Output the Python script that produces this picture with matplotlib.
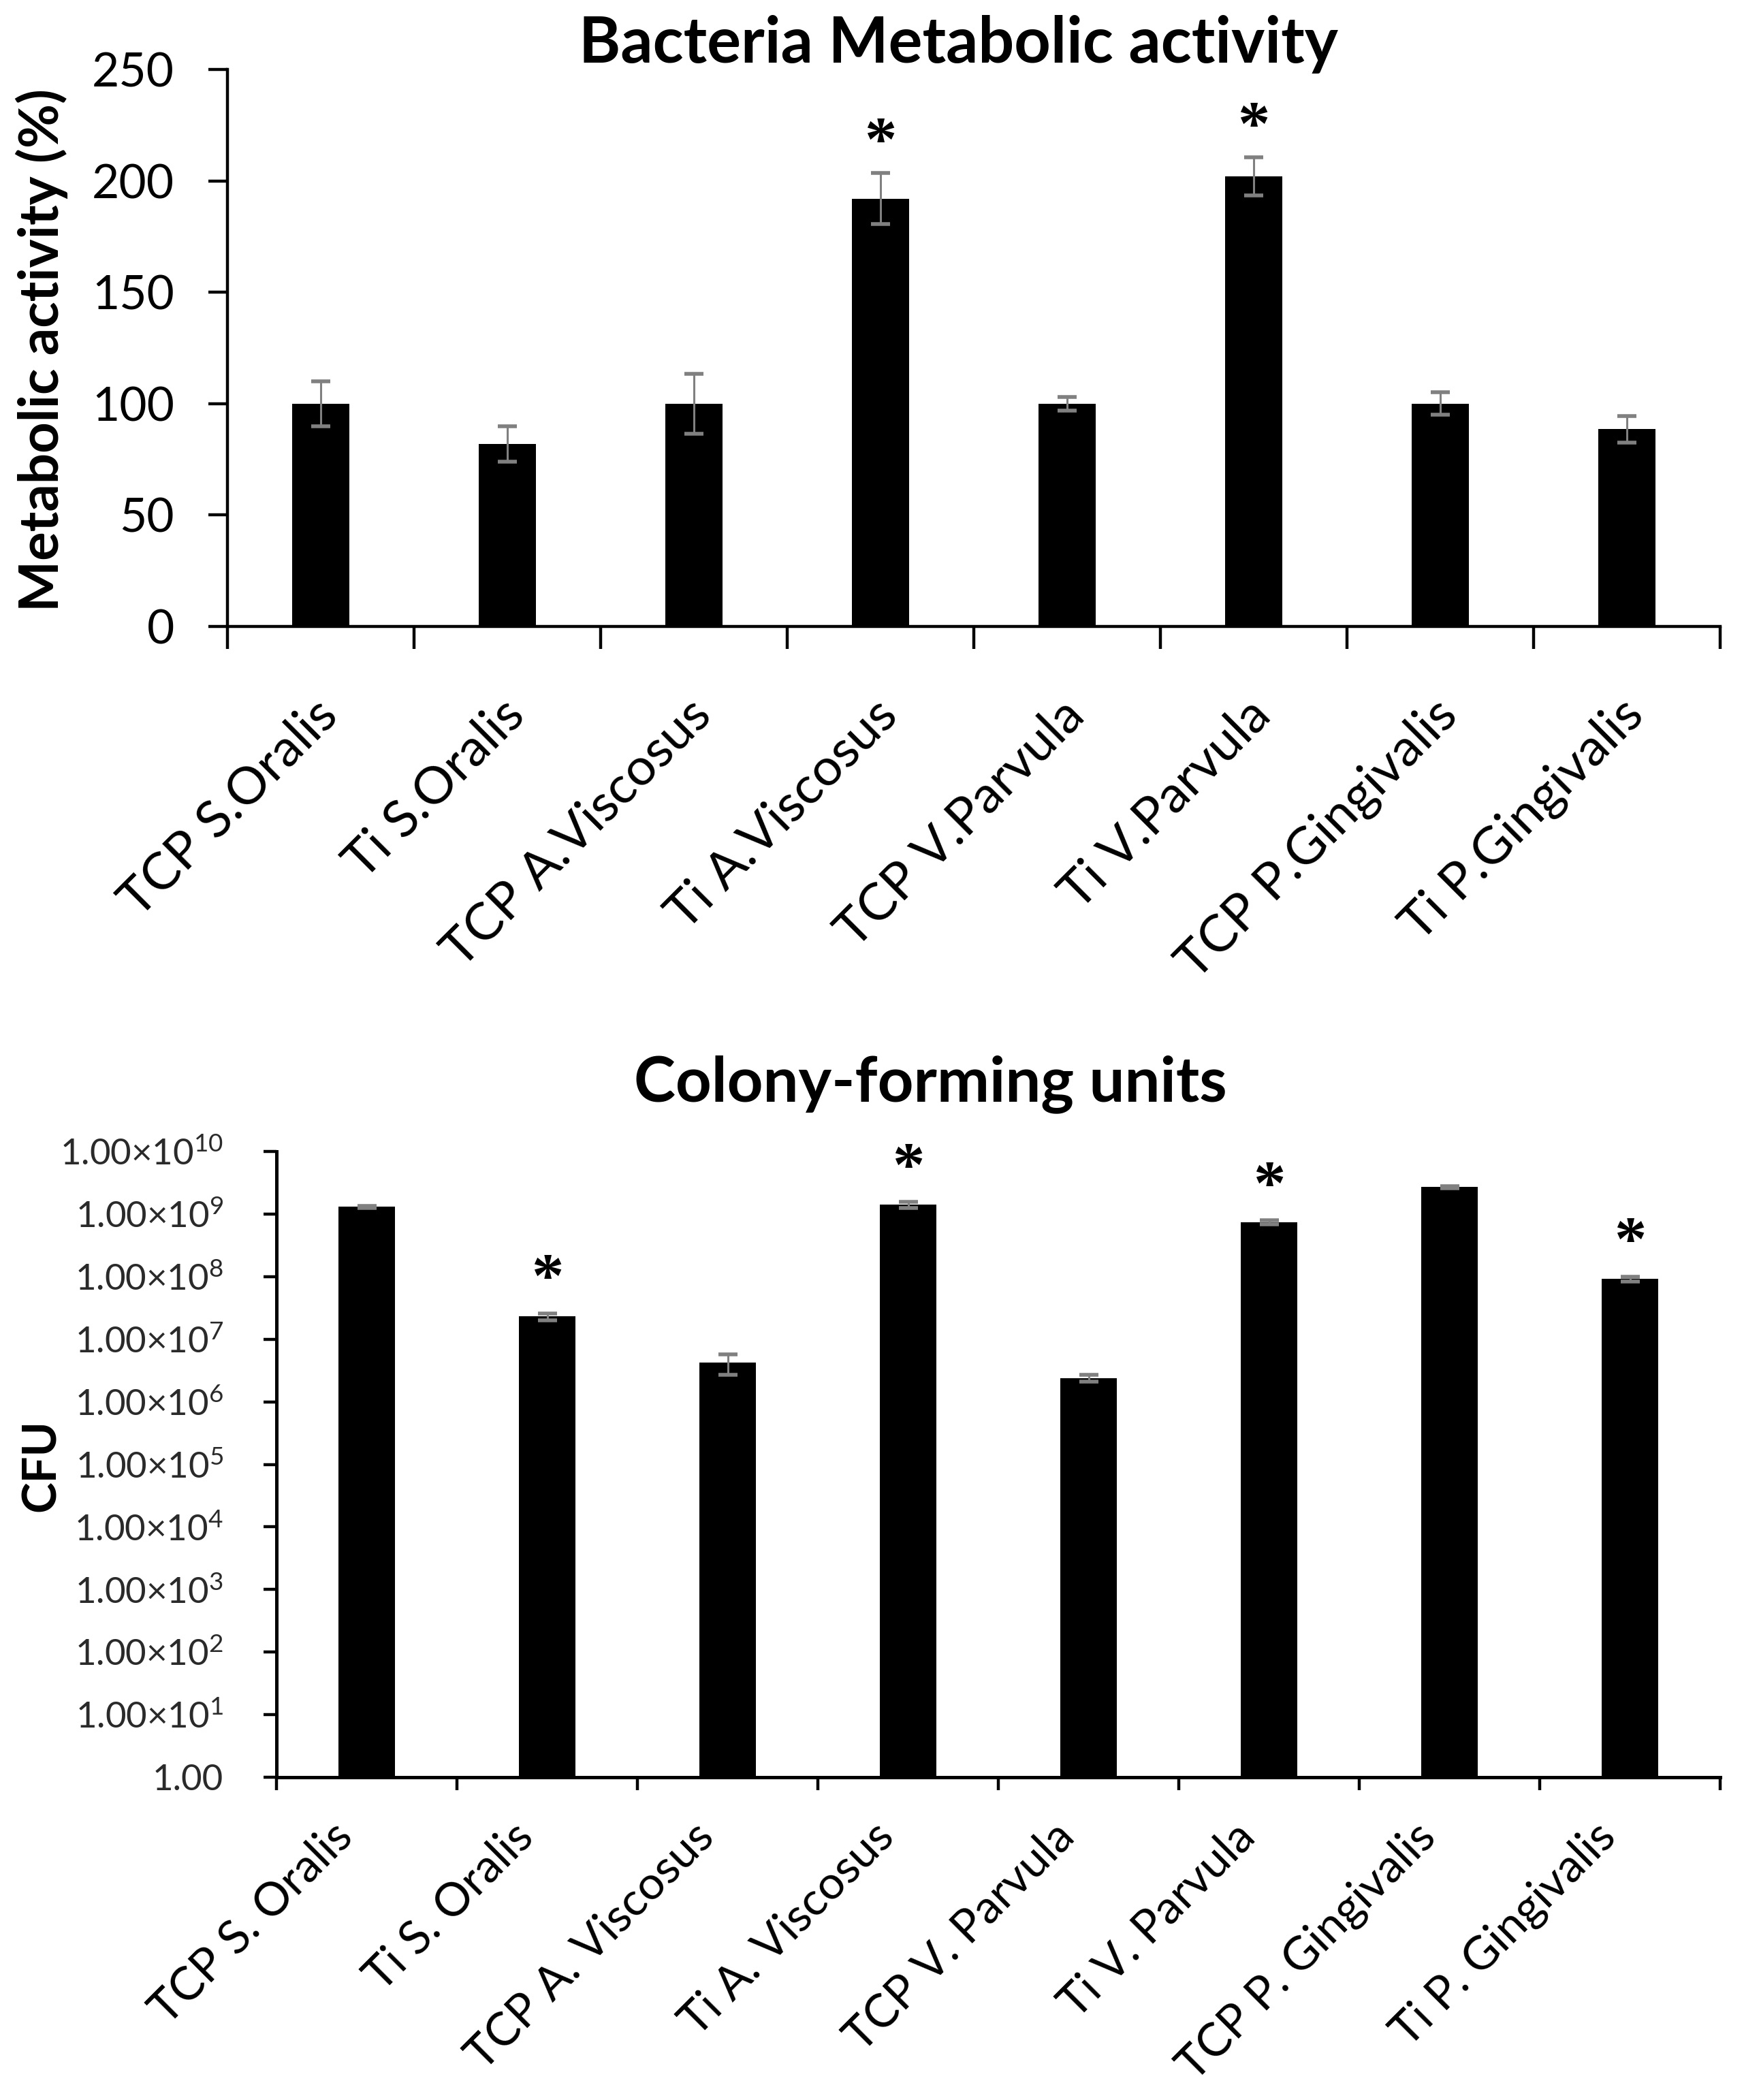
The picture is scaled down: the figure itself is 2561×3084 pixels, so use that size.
import matplotlib
matplotlib.use("Agg")
import matplotlib.pyplot as plt
import numpy as np
from matplotlib.transforms import ScaledTranslation

plt.rcParams['font.family'] = ['Lato', 'DejaVu Sans']
plt.rcParams['mathtext.fontset'] = 'custom'
plt.rcParams['mathtext.rm'] = 'Lato'
plt.rcParams['mathtext.it'] = 'Lato:italic'
plt.rcParams['mathtext.bf'] = 'Lato:bold'

# ---------------- data ----------------
ma_labels = ["TCP S.Oralis", "Ti S.Oralis", "TCP A.Viscosus", "Ti A.Viscosus",
             "TCP V.Parvula", "Ti V.Parvula", "TCP P.Gingivalis", "Ti P.Gingivalis"]
ma_values = [100, 82, 100, 192, 100, 202, 100, 88.5]
ma_errors = [10, 8, 13.5, 11.5, 3, 8.5, 5, 6]
ma_sig = [False, False, False, True, False, True, False, False]
ma_yticks = [0, 50, 100, 150, 200, 250]

cfu_labels = ["TCP S. Oralis", "Ti S. Oralis", "TCP A. Viscosus", "Ti A. Viscosus",
              "TCP V. Parvula", "Ti V. Parvula", "TCP P. Gingivalis", "Ti P. Gingivalis"]
cfu_values = [1.3e9, 2.3e7, 4.2e6, 1.4e9, 2.4e6, 7.4e8, 2.7e9, 9.2e7]
cfu_errors = [5e7, 3e6, 1.5e6, 1.5e8, 3e5, 5e7, 1e8, 8e6]
cfu_sig = [False, True, False, True, False, True, False, True]
cfu_exponents = list(range(0, 11))

# ---------------- figure ----------------
W, H = 2561, 3084
DPI = 200
fig = plt.figure(figsize=(W / DPI, H / DPI), dpi=DPI)
fig.patch.set_facecolor('white')


def style_axes(ax, lw):
    for s in ['top', 'right']:
        ax.spines[s].set_visible(False)
    for s in ['left', 'bottom']:
        ax.spines[s].set_linewidth(lw)
        ax.spines[s].set_color('black')


def fit_text(t, target_px, use_height=False):
    fig.canvas.draw()
    r = fig.canvas.get_renderer()
    bb = t.get_window_extent(r)
    cur = bb.height if use_height else bb.width
    if cur > 0:
        t.set_fontsize(t.get_fontsize() * target_px / cur)


def draw_bars(ax, labels, values, errors, sig, star_off, label_fs, label_pad, label_dx):
    n = len(labels)
    x = np.arange(n) + 0.5
    ax.bar(x, values, width=0.31, color='black', zorder=2)
    eb = ax.errorbar(x, values, yerr=errors, fmt='none', ecolor='#808080',
                     elinewidth=1.1, capsize=5, capthick=2.0, zorder=3)
    for c in eb[1]:
        c.set_color('#3a3a3a')
    for xi, v, e, s in zip(x, values, errors, sig):
        if s:
            ax.annotate('*', xy=(xi, v + e), xytext=(0, star_off), textcoords='offset points',
                        ha='center', va='center', fontsize=34, fontweight='bold',
                        family=['Liberation Serif', 'DejaVu Serif'], color='black')
    ax.set_xlim(0, n)
    ax.set_xticks(np.arange(n + 1))
    ax.set_xticklabels([])
    ax.set_xticks(x, minor=True)
    ax.set_xticklabels(labels, minor=True, rotation=45, ha='right', va='top',
                       rotation_mode='anchor', fontsize=label_fs)
    ax.tick_params(axis='x', which='minor', length=0, pad=label_pad)
    off = ScaledTranslation(label_dx / 72, 0, fig.dpi_scale_trans)
    for t in ax.get_xticklabels(minor=True):
        t.set_transform(t.get_transform() + off)
    return x


# ---------------- top chart ----------------
ax1 = fig.add_axes([334 / W, 1 - 920 / H, (2526 - 334) / W, (920 - 102) / H])
style_axes(ax1, 1.6)
draw_bars(ax1, ma_labels, ma_values, ma_errors, ma_sig, 15, 27.5, 34, -4)
ax1.set_ylim(0, 250)
ax1.set_yticks(ma_yticks)
ax1.set_yticklabels([str(v) for v in ma_yticks], fontsize=25)
ax1.tick_params(axis='y', which='major', length=10, width=1.6, direction='out', pad=18)
ax1.tick_params(axis='x', which='major', length=12, width=1.6, direction='out')
ylab1 = ax1.text((61 - 334) / (2526 - 334), (920 - 514) / (920 - 102), "Metabolic activity (%)",
                 transform=ax1.transAxes, rotation=90, rotation_mode='anchor', ha='center',
                 va='center', fontsize=30, fontweight='bold')
title1 = fig.text(1408 / W, 1 - 65 / H, "Bacteria Metabolic activity", ha='center', va='center',
                  fontsize=33.5, fontweight='bold')

# ---------------- bottom chart ----------------
ax2 = fig.add_axes([406 / W, 1 - 2610 / H, (2526 - 406) / W, (2610 - 1691) / H])
style_axes(ax2, 1.8)
ax2.set_yscale('log')
draw_bars(ax2, cfu_labels, cfu_values, cfu_errors, cfu_sig, 17, 24.5, 20, -19)
ax2.set_ylim(1, 1e10)
ax2.set_yticks([10.0 ** k for k in cfu_exponents])
ax2.set_yticklabels(["1.00"] + ["1.00\u00d710$^{%d}$" % k for k in cfu_exponents[1:]],
                    fontsize=19, color='#2a2a2a')
ax2.yaxis.set_minor_locator(matplotlib.ticker.NullLocator())
ax2.tick_params(axis='y', which='major', length=7, width=1.6, direction='out', pad=21)
ax2.tick_params(axis='x', which='major', length=7, width=1.6, direction='out')
ylab2 = ax2.text((61 - 406) / (2526 - 406), (2610 - 2152) / (2610 - 1691), "CFU",
                 transform=ax2.transAxes, rotation=90, rotation_mode='anchor', ha='center',
                 va='center', fontsize=33, fontweight='bold')
title2 = fig.text(1366 / W, 1 - 1592 / H, "Colony-forming units", ha='center', va='center',
                  fontsize=33.5, fontweight='bold')

# match text lengths to the reference
fit_text(ylab1, 767, use_height=True)
fit_text(ylab2, 136, use_height=True)
fit_text(title1, 1115)
fit_text(title2, 872)

fig.savefig("out.png", dpi=DPI, facecolor='white')
